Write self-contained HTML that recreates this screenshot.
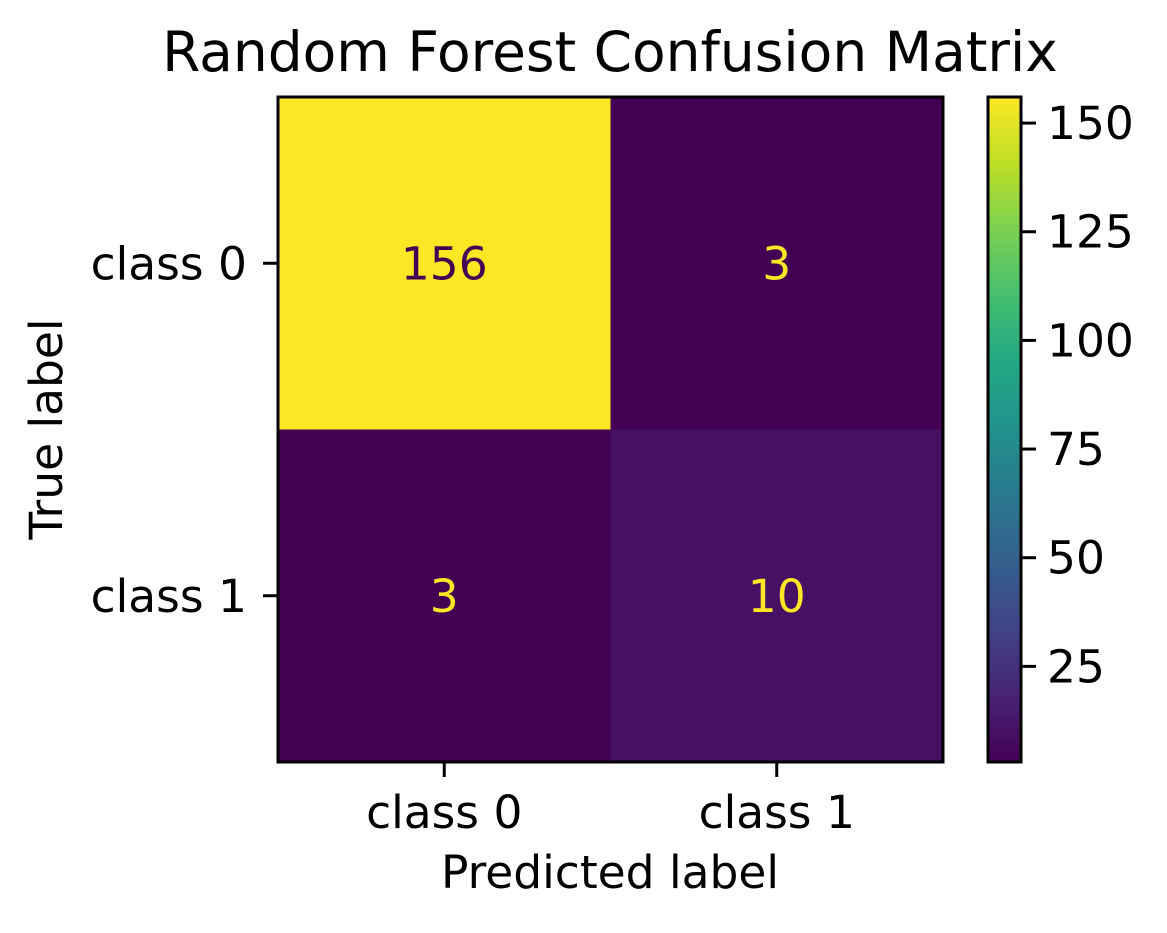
<!DOCTYPE html>
<html><head><meta charset="utf-8"><style>
body{margin:0;background:#fff}
svg text{font-family:"DejaVu Sans","Liberation Sans",sans-serif;fill:#000}
</style></head><body>
<svg id="c" width="1167" height="928" viewBox="0 0 1167 928" xmlns="http://www.w3.org/2000/svg">
<defs><linearGradient id="vir" x1="0" y1="1" x2="0" y2="0">
<stop offset="0" stop-color="#440154"/><stop offset="0.1" stop-color="#482475"/><stop offset="0.2" stop-color="#414487"/><stop offset="0.3" stop-color="#355f8d"/><stop offset="0.4" stop-color="#2a788e"/><stop offset="0.5" stop-color="#21918c"/><stop offset="0.6" stop-color="#22a884"/><stop offset="0.7" stop-color="#44bf70"/><stop offset="0.8" stop-color="#7ad151"/><stop offset="0.9" stop-color="#bddf26"/><stop offset="1" stop-color="#fde725"/>
</linearGradient></defs>
<text x="610" y="71" font-size="55" text-anchor="middle">Random Forest Confusion Matrix</text>
<g id="cells"></g>
<rect x="278" y="97" width="665" height="665" fill="none" stroke="#000" stroke-width="3"/>
<g id="axes"></g>
<text x="610" y="888" font-size="45.5" text-anchor="middle">Predicted label</text>
<text transform="translate(62,429) rotate(-90)" font-size="45.5" text-anchor="middle">True label</text>
<rect x="988" y="97" width="33" height="665" fill="url(#vir)" stroke="#000" stroke-width="3"/>
<g id="cbar"></g>
</svg>
<script>
const categories = ["class 0", "class 1"];
const matrix = [[156, 3], [3, 10]];
const cbarTicks = [25, 50, 75, 100, 125, 150];
const vmin = 3, vmax = 156;

const ns = "http://www.w3.org/2000/svg";
const X0 = 278, Y0 = 97, S = 665, n = categories.length, cw = S / n;
const FS = 45.5;
const stops = ["#440154","#482475","#414487","#355f8d","#2a788e","#21918c","#22a884","#44bf70","#7ad151","#bddf26","#fde725"];
function hex(h){return [1,3,5].map(i=>parseInt(h.substr(i,2),16));}
function viridis(t){t=Math.max(0,Math.min(1,t));const p=t*10,i=Math.min(9,Math.floor(p)),f=p-i;const a=hex(stops[i]),b=hex(stops[i+1]);return "rgb("+a.map((v,k)=>Math.round(v+(b[k]-v)*f)).join(",")+")";}
function mk(tag, attrs, parent){const e=document.createElementNS(ns,tag);for(const k in attrs)e.setAttribute(k,attrs[k]);parent.appendChild(e);return e;}
const cells=document.getElementById("cells"), axes=document.getElementById("axes"), cbar=document.getElementById("cbar");
const cy = v => Y0 + S - (v - vmin) / (vmax - vmin) * S;

matrix.forEach((row,r)=>row.forEach((v,c)=>{
  const t=(v-vmin)/(vmax-vmin);
  const rect=mk("rect",{x:X0+c*cw,y:Y0+r*cw,width:cw,height:cw,fill:viridis(t)},cells);
  
  
  const tx=mk("text",{x:X0+(c+0.5)*cw,y:Y0+(r+0.5)*cw+16,"font-size":FS,"text-anchor":"middle"},cells);
  tx.style.fill = t>0.5 ? "#440154" : "#fde725";
  tx.textContent=v;
  
  
}));
categories.forEach((cat,i)=>{
  const x=X0+(i+0.5)*cw, y=Y0+(i+0.5)*cw;
  mk("line",{x1:x,y1:Y0+S,x2:x,y2:Y0+S+15,stroke:"#000","stroke-width":3},axes);
  const xt=mk("text",{x:x,y:Y0+S+66,"font-size":FS,"text-anchor":"middle"},axes);
  xt.textContent=cat;
  
  
  mk("line",{x1:X0-15,y1:y,x2:X0,y2:y,stroke:"#000","stroke-width":3},axes);
  const yt=mk("text",{x:X0-31,y:y+16,"font-size":FS,"text-anchor":"end"},axes);
  yt.textContent=cat;
  
  
});
cbarTicks.forEach(v=>{
  const y=cy(v);
  mk("line",{x1:1021,y1:y,x2:1036,y2:y,stroke:"#000","stroke-width":3},cbar);
  const t=mk("text",{x:1047,y:y+16,"font-size":FS},cbar);
  t.textContent=v;
  
  
});
</script>
</body></html>
